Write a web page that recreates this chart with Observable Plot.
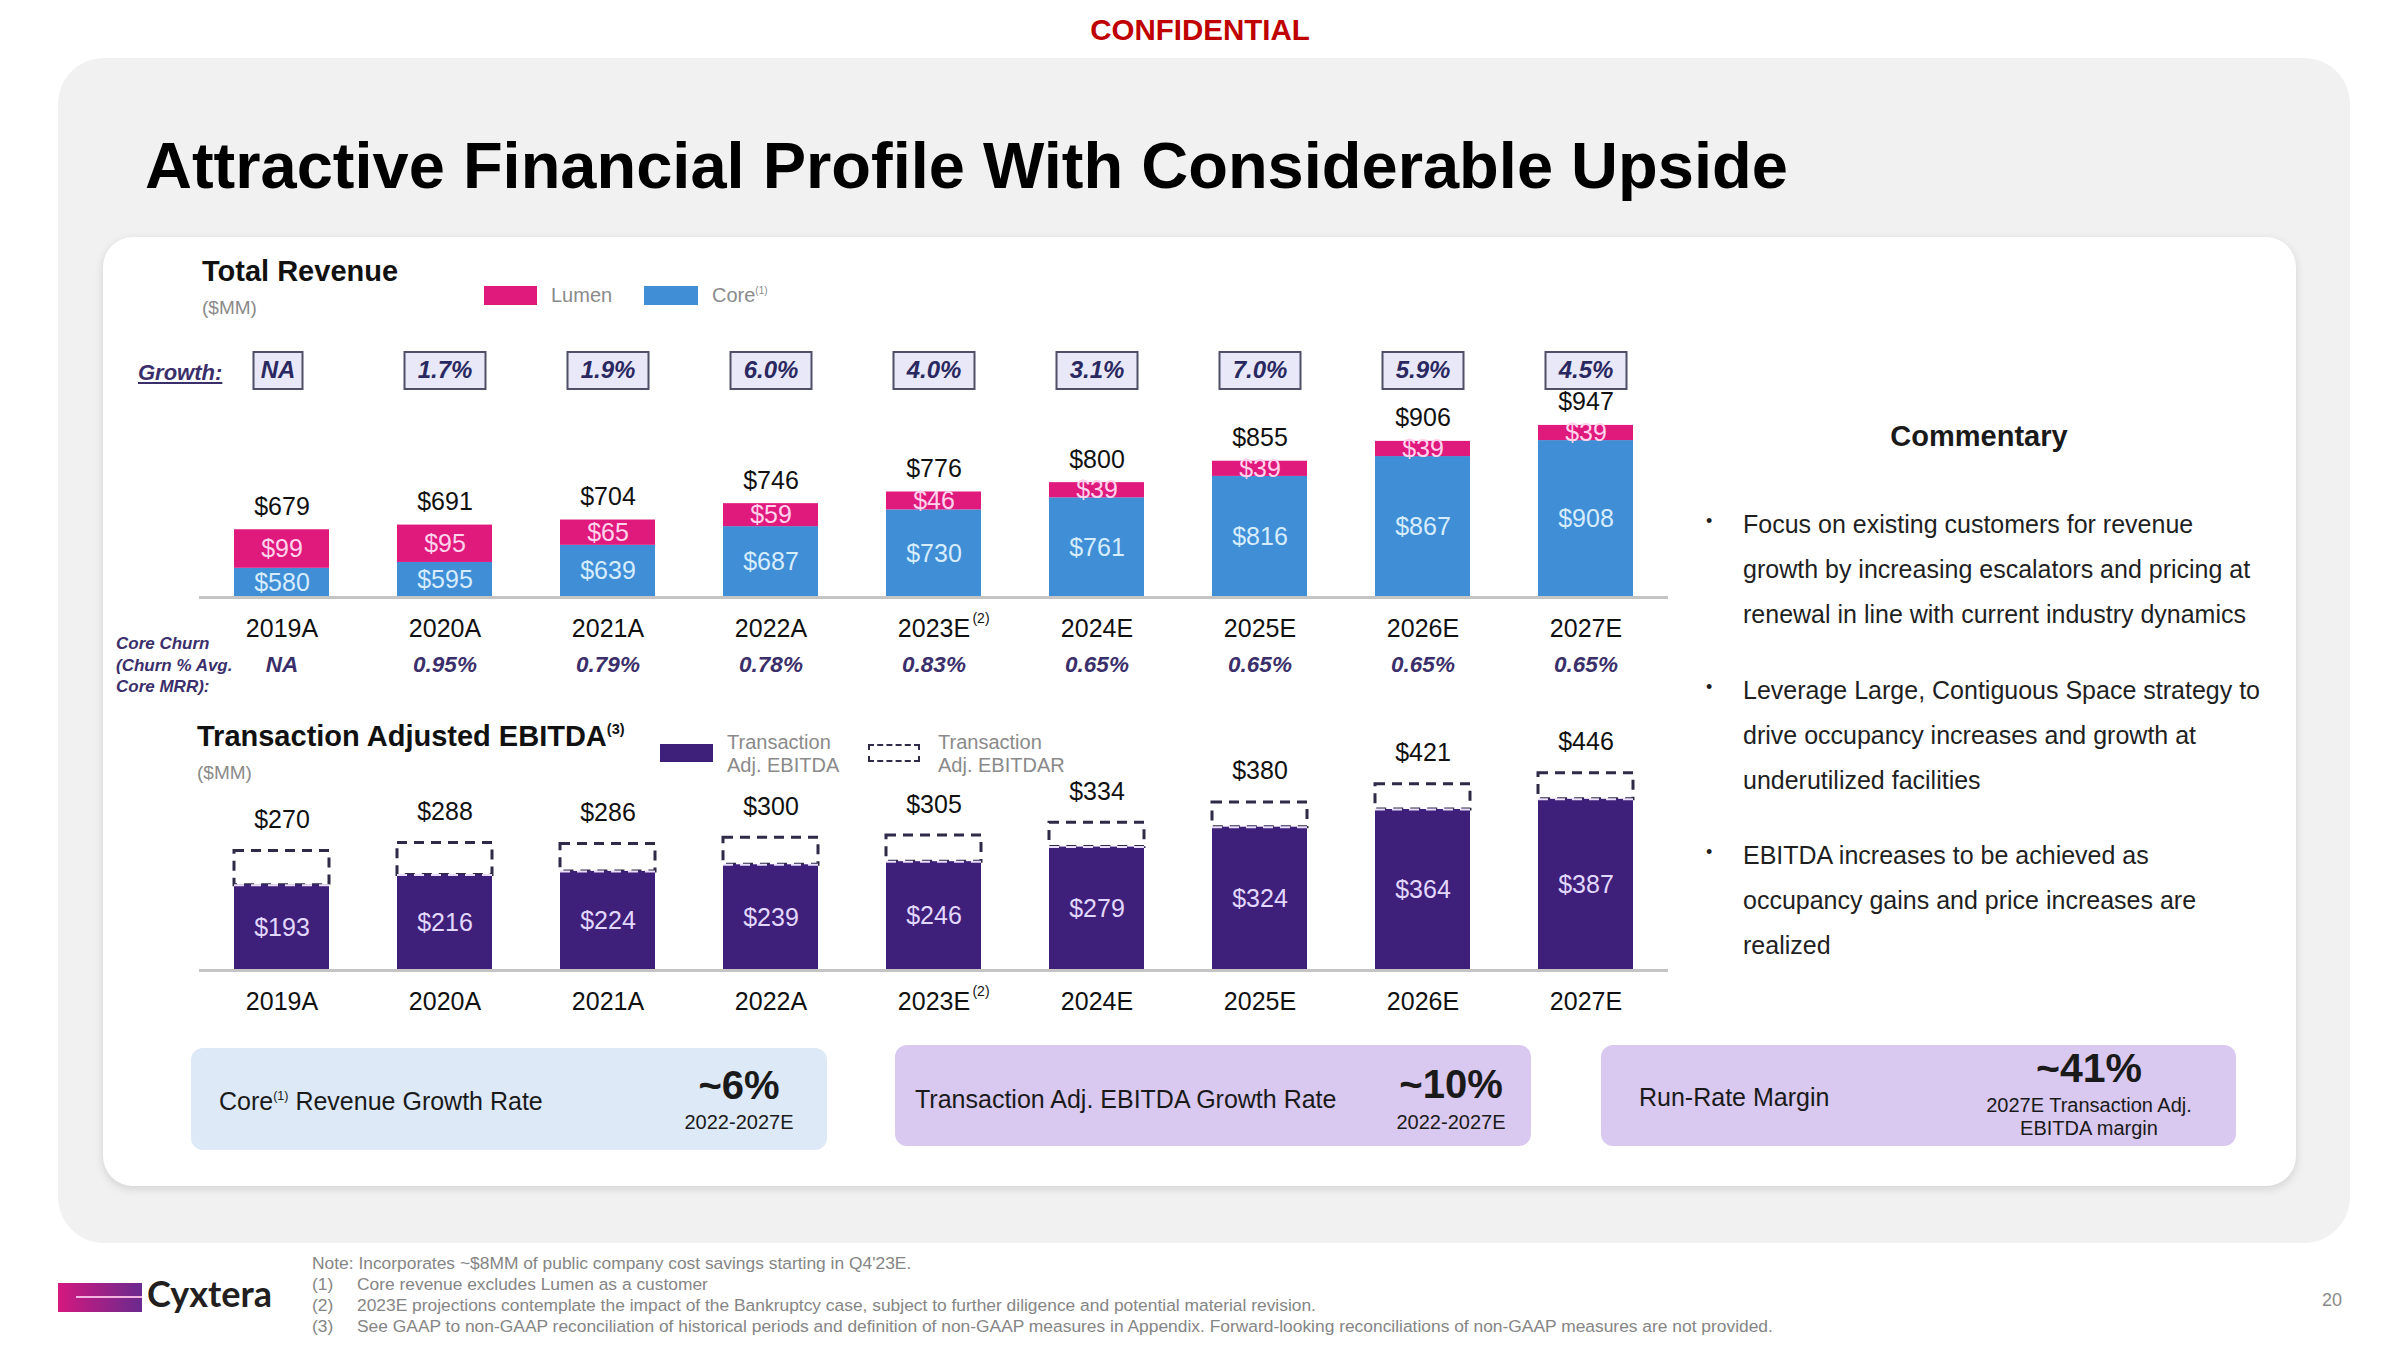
<!DOCTYPE html>
<html><head><meta charset="utf-8">
<script src="https://cdn.jsdelivr.net/npm/d3@7"></script>
<script src="https://cdn.jsdelivr.net/npm/@observablehq/plot@0.6"></script>
<style>
html,body{margin:0;padding:0;background:#fff;}
body{width:2400px;height:1350px;position:relative;overflow:hidden;font-family:"Liberation Sans",Arial,Helvetica,sans-serif;color:#1a1a1a;}
.a{position:absolute;white-space:nowrap;line-height:1.2;}
.sup{font-size:0.5em;position:relative;top:-0.8em;}
.panel{position:absolute;left:58px;top:58px;width:2292px;height:1185px;background:#f1f1f1;border-radius:46px;}
.card{position:absolute;left:103px;top:237px;width:2193px;height:949px;background:#fff;border-radius:30px;box-shadow:0 3px 10px rgba(0,0,0,0.13);}
.box{position:absolute;border-radius:12px;}
.gray{color:#8a8a8a;}
.churn{color:#3b2f6b;font-style:italic;font-weight:bold;}
.chart{position:absolute;}
.bul{position:absolute;font-size:25px;line-height:45px;color:#1f1f1f;white-space:nowrap;}
.dot{position:absolute;font-size:18px;color:#1f1f1f;}
.fn{position:absolute;left:312px;top:1253px;font-size:17.4px;line-height:21px;color:#858585;white-space:nowrap;}
.fn span.n{display:inline-block;width:45px;}
</style></head>
<body>
<div class="a" style="left:1090px;width:220px;text-align:center;top:12px;font-size:29.5px;font-weight:bold;color:#c00000;">CONFIDENTIAL</div>
<div class="panel"></div>
<div class="a" style="left:145px;top:127px;font-size:65px;font-weight:bold;color:#000;">Attractive Financial Profile With Considerable Upside</div>
<div class="card"></div>

<!-- Revenue header -->
<div class="a" style="left:202px;top:254px;font-size:29px;font-weight:bold;color:#111;">Total Revenue</div>
<div class="a gray" style="left:202px;top:297px;font-size:19px;">($MM)</div>
<div class="a" style="left:484px;top:286px;width:53px;height:19px;background:#e0197d;"></div>
<div class="a gray" style="left:551px;top:283px;font-size:20px;">Lumen</div>
<div class="a" style="left:644px;top:286px;width:54px;height:19px;background:#3f8ed6;"></div>
<div class="a gray" style="left:712px;top:283px;font-size:20px;">Core<span class="sup">(1)</span></div>
<div class="a churn" style="left:138px;top:360px;font-size:22px;text-decoration:underline;">Growth:</div>
<div class="a churn" style="left:116px;top:633px;font-size:17px;line-height:21.5px;">Core Churn<br>(Churn % Avg.<br>Core MRR):</div>

<!-- EBITDA header -->
<div class="a" style="left:197px;top:719px;font-size:29px;font-weight:bold;color:#111;">Transaction Adjusted EBITDA<span class="sup">(3)</span></div>
<div class="a gray" style="left:197px;top:762px;font-size:19px;">($MM)</div>
<div class="a" style="left:660px;top:744px;width:53px;height:18px;background:#3e1f79;"></div>
<div class="a gray" style="left:727px;top:731px;font-size:20px;line-height:23px;">Transaction<br>Adj. EBITDA</div>
<div class="a" style="left:868px;top:744px;width:48px;height:14px;border:2px dashed #2e2a48;background:#fff;"></div>
<div class="a gray" style="left:938px;top:731px;font-size:20px;line-height:23px;">Transaction<br>Adj. EBITDAR</div>

<div id="rev" class="chart" style="left:199px;top:330px;"></div>
<div id="ebitda" class="chart" style="left:199px;top:720px;"></div>

<!-- bottom boxes -->
<div class="box" style="left:191px;top:1048px;width:636px;height:102px;background:#dde9f6;"></div>
<div class="a" style="left:219px;top:1086px;font-size:25px;">Core<span class="sup">(1)</span> Revenue Growth Rate</div>
<div class="a" style="left:659px;width:160px;text-align:center;top:1061px;font-size:40px;font-weight:bold;">~6%</div>
<div class="a" style="left:659px;width:160px;text-align:center;top:1110px;font-size:20px;">2022-2027E</div>

<div class="box" style="left:895px;top:1045px;width:636px;height:101px;background:#d9c8ef;"></div>
<div class="a" style="left:915px;top:1084px;font-size:25px;">Transaction Adj. EBITDA Growth Rate</div>
<div class="a" style="left:1371px;width:160px;text-align:center;top:1060px;font-size:40px;font-weight:bold;">~10%</div>
<div class="a" style="left:1371px;width:160px;text-align:center;top:1110px;font-size:20px;">2022-2027E</div>

<div class="box" style="left:1601px;top:1045px;width:635px;height:101px;background:#d9c8ef;"></div>
<div class="a" style="left:1639px;top:1082px;font-size:25px;">Run-Rate Margin</div>
<div class="a" style="left:1949px;width:280px;text-align:center;top:1044px;font-size:41px;font-weight:bold;">~41%</div>
<div class="a" style="left:1949px;width:280px;text-align:center;top:1094px;font-size:20px;line-height:23px;">2027E Transaction Adj.<br>EBITDA margin</div>

<!-- commentary -->
<div class="a" style="left:1829px;width:300px;text-align:center;top:419px;font-size:29px;font-weight:bold;">Commentary</div>
<div class="dot" style="left:1706px;top:511px;">•</div>
<div class="bul" style="left:1743px;top:502px;">Focus on existing customers for revenue<br>growth by increasing escalators and pricing at<br>renewal in line with current industry dynamics</div>
<div class="dot" style="left:1706px;top:677px;">•</div>
<div class="bul" style="left:1743px;top:668px;">Leverage Large, Contiguous Space strategy to<br>drive occupancy increases and growth at<br>underutilized facilities</div>
<div class="dot" style="left:1706px;top:842px;">•</div>
<div class="bul" style="left:1743px;top:833px;">EBITDA increases to be achieved as<br>occupancy gains and price increases are<br>realized</div>

<!-- footer -->
<div style="position:absolute;left:58px;top:1283px;width:84px;height:29px;background:linear-gradient(90deg,#d4187f,#6a2a8e);"></div>
<div style="position:absolute;left:76px;top:1296px;width:66px;height:2px;background:#f3b4e0;"></div>
<div class="a" style="left:147px;top:1272px;font-size:36px;font-weight:bold;font-family:Lato,'Open Sans',sans-serif;color:#231f20;">Cyxtera</div>
<div class="fn">Note: Incorporates ~$8MM of public company cost savings starting in Q4'23E.<br><span class="n">(1)</span>Core revenue excludes Lumen as a customer<br><span class="n">(2)</span>2023E projections contemplate the impact of the Bankruptcy case, subject to further diligence and potential material revision.<br><span class="n">(3)</span>See GAAP to non-GAAP reconciliation of historical periods and definition of non-GAAP measures in Appendix. Forward-looking reconciliations of non-GAAP measures are not provided.</div>
<div class="a" style="left:2322px;top:1290px;font-size:18px;color:#8a8a8a;">20</div>

<script>
// ---- data ----
const years = ["2019A","2020A","2021A","2022A","2023E","2024E","2025E","2026E","2027E"];
const coreRevenue = [580,595,639,687,730,761,816,867,908];
const lumenRevenue = [99,95,65,59,46,39,39,39,39];
const totalRevenue = [679,691,704,746,776,800,855,906,947];
const growthLabels = ["NA","1.7%","1.9%","6.0%","4.0%","3.1%","7.0%","5.9%","4.5%"];
const churnLabels = ["NA","0.95%","0.79%","0.78%","0.83%","0.65%","0.65%","0.65%","0.65%"];
const adjEbitda = [193,216,224,239,246,279,324,364,387];
const adjEbitdar = [270,288,286,300,305,334,380,421,446];
const footnoteYear = "2023E";

const REV_BASE = 505;
const FONT = "Liberation Sans, Arial, Helvetica, sans-serif";
const C_CORE = "#3f8ed6", C_LUMEN = "#e0197d", C_EBITDA = "#3e1f79";

const rev = years.map((y,i)=>({year:y, core:coreRevenue[i], lumen:lumenRevenue[i], total:totalRevenue[i], growth:growthLabels[i], churn:churnLabels[i]}));
const eb = years.map((y,i)=>({year:y, ebitda:adjEbitda[i], ebitdar:adjEbitdar[i]}));
const revPct = rev.filter(d=>d.growth!=="NA");
const revNA = rev.filter(d=>d.growth==="NA");

const boxSymbol = (w,h) => ({draw(ctx){ctx.moveTo(-w/2,-h/2);ctx.lineTo(w/2,-h/2);ctx.lineTo(w/2,h/2);ctx.lineTo(-w/2,h/2);ctx.closePath();}});
const xScale = {domain: years, paddingInner: 0.42, paddingOuter: 0.21, axis: null};
const growthText = {frameAnchor:"top", lineAnchor:"middle", dy:-30, text:"growth", fontSize:24, fontWeight:"bold", fontStyle:"italic", fill:"#2a2860"};

const revChart = Plot.plot({
  width: 1469, height: 360, marginLeft: 0, marginRight: 0, marginTop: 70, marginBottom: 93,
  x: xScale,
  y: {domain: [REV_BASE, 1011], axis: null},
  style: {background: "transparent", fontFamily: FONT},
  marks: [
    Plot.barY(rev, {x:"year", y1: REV_BASE, y2:"core", fill: C_CORE}),
    Plot.barY(rev, {x:"year", y1:"core", y2:"total", fill: C_LUMEN}),
    Plot.ruleY([REV_BASE], {stroke:"#c4c4c4", strokeWidth:3}),
    Plot.text(rev, {x:"year", y:"total", text:d=>"$"+d.total, dy:-23, fontSize:25, fill:"#111"}),
    Plot.text(rev, {x:"year", y:d=>(REV_BASE+d.core)/2, text:d=>"$"+d.core, fontSize:25, fill:"#d6ecff"}),
    Plot.text(rev, {x:"year", y:d=>d.core+d.lumen/2, text:d=>"$"+d.lumen, fontSize:25, fill:"#ffd3ec"}),
    Plot.dot(revPct, {x:"year", frameAnchor:"top", dy:-30, r:10, symbol: boxSymbol(81,37), fill:"#e8e8f8", stroke:"#4f4f68", strokeWidth:2}),
    Plot.dot(revNA, {x:"year", frameAnchor:"top", dy:-30, dx:-4, r:10, symbol: boxSymbol(49,37), fill:"#e8e8f8", stroke:"#4f4f68", strokeWidth:2}),
    Plot.text(revPct, {x:"year", ...growthText}),
    Plot.text(revNA, {x:"year", ...growthText, dx:-4}),
    Plot.text(rev, {x:"year", frameAnchor:"bottom", lineAnchor:"middle", dy:31, text:"year", fontSize:25, fill:"#111"}),
    Plot.text([footnoteYear], {x:d=>d, frameAnchor:"bottom", lineAnchor:"middle", dy:21, dx:47, text:()=>"(2)", fontSize:14, fill:"#111"}),
    Plot.text(rev, {x:"year", frameAnchor:"bottom", lineAnchor:"middle", dy:67, text:"churn", fontSize:22.5, fontWeight:"bold", fontStyle:"italic", fill:"#3b2f6b"})
  ]
});
document.getElementById("rev").appendChild(revChart);

const ebChart = Plot.plot({
  width: 1469, height: 305, marginLeft: 0, marginRight: 0, marginTop: 20, marginBottom: 55,
  x: xScale,
  y: {domain: [0, 520], axis: null},
  style: {background: "transparent", fontFamily: FONT},
  marks: [
    Plot.barY(eb, {x:"year", y1:"ebitda", y2:"ebitdar", fill:"white", stroke:"#2e2a48", strokeWidth:3, strokeDasharray:"10,7"}),
    Plot.barY(eb, {x:"year", y:"ebitda", fill: C_EBITDA}),
    Plot.tickY(eb, {x:"year", y:"ebitda", stroke:"#e9defc", strokeWidth:2, strokeDasharray:"10,7"}),
    Plot.ruleY([0], {stroke:"#c4c4c4", strokeWidth:3}),
    Plot.text(eb, {x:"year", y:"ebitdar", text:d=>"$"+d.ebitdar, dy:-31, fontSize:25, fill:"#111"}),
    Plot.text(eb, {x:"year", y:d=>d.ebitda/2, text:d=>"$"+d.ebitda, fontSize:25, fill:"#e2d8ff"}),
    Plot.text(eb, {x:"year", frameAnchor:"bottom", lineAnchor:"middle", dy:31, text:"year", fontSize:25, fill:"#111"}),
    Plot.text([footnoteYear], {x:d=>d, frameAnchor:"bottom", lineAnchor:"middle", dy:21, dx:47, text:()=>"(2)", fontSize:14, fill:"#111"})
  ]
});
document.getElementById("ebitda").appendChild(ebChart);
</script>
</body></html>
